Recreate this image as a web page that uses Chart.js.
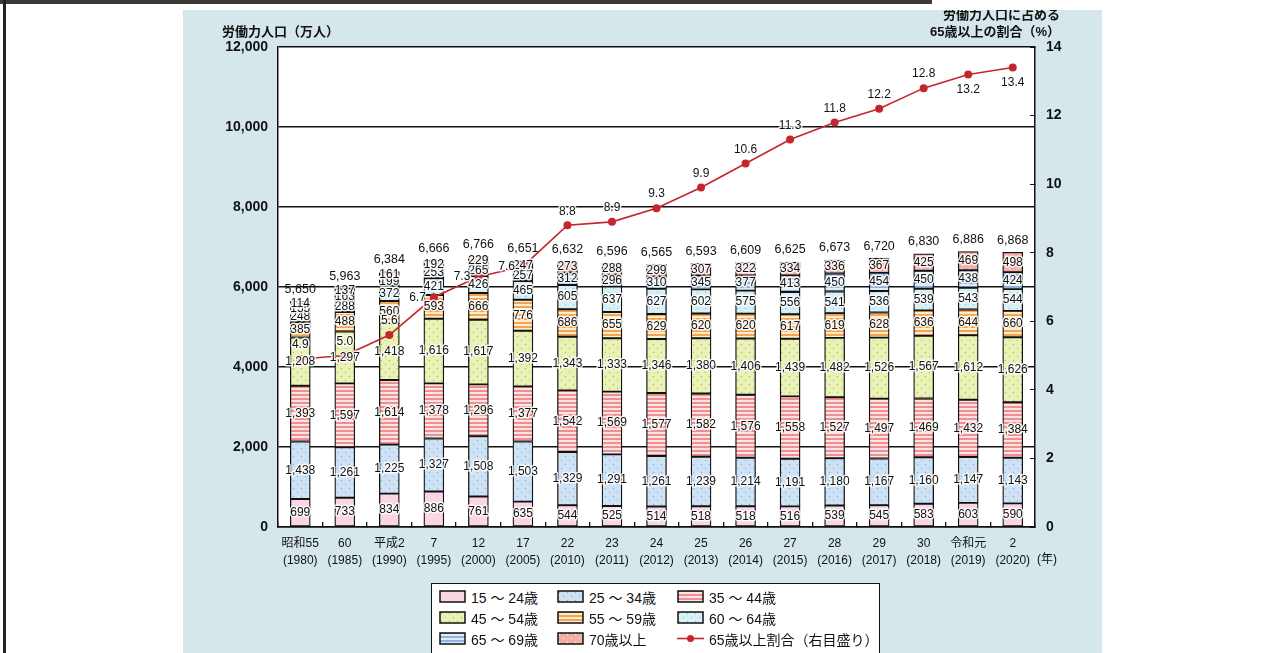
<!DOCTYPE html>
<html lang="ja">
<head>
<meta charset="utf-8">
<title>労働力人口の推移</title>
<script src="https://cdn.jsdelivr.net/npm/chart.js@4.4.1/dist/chart.umd.min.js"></script>
<style>
  body { margin: 0; width: 1271px; height: 653px; overflow: hidden; background: #fff;
         font-family: "Liberation Sans", "Noto Sans CJK JP", sans-serif; position: relative; }
  #topbar { position: absolute; left: 0; top: 0; width: 932px; height: 4px; background: #3a3a3a; }
  #leftline { position: absolute; left: 3px; top: 0; width: 3px; height: 653px; background: #222; }
  #panel { position: absolute; left: 183px; top: 10px; width: 919px; height: 643px; background: #d5e7eb; }
  #chartBox { position: absolute; left: 183px; top: 10px; width: 919px; height: 563px; }
  #legend { position: absolute; left: 431px; top: 583px; width: 449px; height: 80px;
            background: #fff; border: 1.5px solid #111; box-sizing: border-box;
            display: grid; grid-template-columns: 118px 120px 200px; grid-auto-rows: 21px;
            padding: 2px 0 0 7px; font-size: 14px; color: #111; }
  .item { display: flex; align-items: center; }
  .item canvas { margin-right: 5px; }
</style>
</head>
<body>
<div id="topbar"></div>
<div id="leftline"></div>
<div id="panel"></div>
<div id="chartBox"><canvas id="laborChart"></canvas></div>
<div id="legend"></div>
<script>
// categories
const eraYears = ["昭和55", "60", "平成2", "7", "12", "17", "22", "23", "24", "25", "26", "27", "28", "29", "30", "令和元", "2"];
const westernYears = ["(1980)", "(1985)", "(1990)", "(1995)", "(2000)", "(2005)", "(2010)", "(2011)", "(2012)", "(2013)", "(2014)", "(2015)", "(2016)", "(2017)", "(2018)", "(2019)", "(2020)"];
const ageGroups = ["15 ～ 24歳", "25 ～ 34歳", "35 ～ 44歳", "45 ～ 54歳", "55 ～ 59歳", "60 ～ 64歳", "65 ～ 69歳", "70歳以上"];

// labour force by age (万人)
const age15to24 = [699, 733, 834, 886, 761, 635, 544, 525, 514, 518, 518, 516, 539, 545, 583, 603, 590];
const age25to34 = [1438, 1261, 1225, 1327, 1508, 1503, 1329, 1291, 1261, 1239, 1214, 1191, 1180, 1167, 1160, 1147, 1143];
const age35to44 = [1393, 1597, 1614, 1378, 1296, 1377, 1542, 1569, 1577, 1582, 1576, 1558, 1527, 1497, 1469, 1432, 1384];
const age45to54 = [1208, 1297, 1418, 1616, 1617, 1392, 1343, 1333, 1346, 1380, 1406, 1439, 1482, 1526, 1567, 1612, 1626];
const age55to59 = [385, 488, 560, 593, 666, 776, 686, 655, 629, 620, 620, 617, 619, 628, 636, 644, 660];
const age60to64 = [248, 288, 372, 421, 426, 465, 605, 637, 627, 602, 575, 556, 541, 536, 539, 543, 544];
const age65to69 = [155, 163, 199, 253, 265, 257, 312, 296, 310, 345, 377, 413, 450, 454, 450, 438, 424];
const age70plus = [114, 137, 161, 192, 229, 247, 273, 288, 299, 307, 322, 334, 336, 367, 425, 469, 498];
const totals = [5650, 5963, 6384, 6666, 6766, 6651, 6632, 6596, 6565, 6593, 6609, 6625, 6673, 6720, 6830, 6886, 6868];

// share of 65+ in labour force (%)
const share65 = [4.9, 5.0, 5.6, 6.7, 7.3, 7.6, 8.8, 8.9, 9.3, 9.9, 10.6, 11.3, 11.8, 12.2, 12.8, 13.2, 13.4];

const FONT = '"Liberation Sans", "Noto Sans CJK JP", sans-serif';

function makePattern(kind, base, fg) {
  const c = document.createElement("canvas");
  const g = c.getContext("2d");
  if (kind === "stripe") {
    c.width = 4; c.height = 4;
    g.fillStyle = base; g.fillRect(0, 0, 4, 4);
    g.fillStyle = fg; g.fillRect(0, 0, 4, 2);
  } else if (kind === "dot") {
    c.width = 8; c.height = 8;
    g.fillStyle = base; g.fillRect(0, 0, 8, 8);
    g.fillStyle = fg; g.fillRect(2, 2, 1, 1); g.fillRect(6, 6, 1, 1);
  } else {
    c.width = 2; c.height = 2;
    g.fillStyle = base; g.fillRect(0, 0, 2, 2);
  }
  return g.createPattern(c, "repeat");
}

const fills = [
  makePattern("solid", "#fad6e4"),
  makePattern("dot", "#cde2f4", "#86a6cc"),
  makePattern("stripe", "#fde3e3", "#ef8f8f"),
  makePattern("dot", "#e9f1b5", "#9cb468"),
  makePattern("stripe", "#fdeccd", "#f4a552"),
  makePattern("dot", "#d6f0f6", "#7fbccd"),
  makePattern("stripe", "#e0ebf8", "#8fb4e0"),
  makePattern("dot", "#f5aea7", "#ffffff"),
];
const ageSeries = [age15to24, age25to34, age35to44, age45to54, age55to59, age60to64, age65to69, age70plus];

const barSets = ageSeries.map(function (values, i) {
  return {
    type: "bar",
    label: ageGroups[i],
    data: values,
    backgroundColor: fills[i],
    borderColor: "#111",
    borderWidth: 1.3,
    borderSkipped: false,
    barThickness: 20,
    stack: "labour",
    yAxisID: "y",
    order: 1,
  };
});

const lineSet = {
  type: "line",
  label: "65歳以上割合（右目盛り）",
  data: share65,
  borderColor: "#c3262c",
  backgroundColor: "#c3262c",
  borderWidth: 1.6,
  pointRadius: 4,
  pointBackgroundColor: "#c3262c",
  pointBorderWidth: 0,
  yAxisID: "y1",
  order: 0,
};

// where the % labels sit relative to their points
const shareLabelSide = { 3: "left", 4: "left", 5: "left", 15: "below", 16: "below" };

const plotBackground = {
  id: "plotBackground",
  beforeDraw(chart) {
    const { ctx, chartArea: a } = chart;
    ctx.save();
    ctx.fillStyle = "#fff";
    ctx.fillRect(a.left, a.top, a.right - a.left, a.bottom - a.top);
    ctx.restore();
  },
};

const valueLabels = {
  id: "valueLabels",
  afterDatasetsDraw(chart) {
    const ctx = chart.ctx;
    ctx.save();
    ctx.font = "12px " + FONT;
    ctx.textAlign = "center";
    ctx.textBaseline = "middle";
    ctx.lineJoin = "round";
    ctx.fillStyle = "#111";
    ctx.strokeStyle = "rgba(255,255,255,0.85)";
    ctx.lineWidth = 3;
    // segment values
    barSets.forEach(function (ds, i) {
      chart.getDatasetMeta(i).data.forEach(function (bar, j) {
        const p = bar.getProps(["x", "y", "base"], true);
        const txt = ds.data[j].toLocaleString("en-US");
        const cy = (p.y + p.base) / 2;
        ctx.strokeText(txt, p.x, cy);
        ctx.fillText(txt, p.x, cy);
      });
    });
    // totals
    const topMeta = chart.getDatasetMeta(barSets.length - 1);
    ctx.font = "12.5px " + FONT;
    topMeta.data.forEach(function (bar, j) {
      const p = bar.getProps(["x", "y"], true);
      ctx.fillText(totals[j].toLocaleString("en-US"), p.x, p.y - 12);
    });
    // share labels
    ctx.font = "12px " + FONT;
    const lineMeta = chart.getDatasetMeta(barSets.length);
    lineMeta.data.forEach(function (pt, j) {
      const side = shareLabelSide[j] || "above";
      const txt = share65[j].toFixed(1);
      let x = pt.x, y = pt.y - 14;
      ctx.textAlign = "center";
      if (side === "left") { x = pt.x - 8; y = pt.y; ctx.textAlign = "right"; }
      if (side === "below") { y = pt.y + 15; }
      ctx.strokeText(txt, x, y);
      ctx.fillText(txt, x, y);
    });
    ctx.restore();
  },
};

const axisTitles = {
  id: "axisTitles",
  afterDraw(chart) {
    const { ctx, chartArea: a } = chart;
    ctx.save();
    ctx.fillStyle = "#111";
    ctx.font = "bold 13px " + FONT;
    ctx.textBaseline = "middle";
    ctx.textAlign = "left";
    ctx.fillText("労働力人口（万人）", a.left - 56, a.top - 15);
    ctx.textAlign = "right";
    ctx.fillText("労働力人口に占める", a.right + 25, a.top - 32);
    ctx.fillText("65歳以上の割合（%）", a.right + 25, a.top - 15);
    ctx.font = "12px " + FONT;
    ctx.textAlign = "left";
    ctx.fillText("(年)", a.right + 2, a.bottom + 33);
    ctx.restore();
  },
};

const laborChart = new Chart(document.getElementById("laborChart"), {
  data: {
    labels: eraYears.map(function (e, i) { return [e, westernYears[i]]; }),
    datasets: barSets.concat([lineSet]),
  },
  options: {
    responsive: true,
    maintainAspectRatio: false,
    animation: false,
    layout: { padding: { top: 37, left: 0, right: 0, bottom: 0 } },
    plugins: {
      legend: { display: false },
      tooltip: { enabled: false },
    },
    scales: {
      x: {
        stacked: true,
        offset: true,
        grid: { display: true, offset: true, drawOnChartArea: false, drawTicks: true, tickLength: -5, color: "#111", lineWidth: 1.3 },
        border: { color: "#111", width: 1.5 },
        ticks: { color: "#111", padding: 14, maxRotation: 0, autoSkip: false, font: { size: 12, family: FONT, lineHeight: 1.35 } },
        afterFit: function (s) { s.height = 46; },
      },
      y: {
        stacked: true,
        min: 0,
        max: 12000,
        position: "left",
        grid: { color: "#111", lineWidth: 1.4, drawTicks: false },
        border: { color: "#111", width: 1.5 },
        ticks: { stepSize: 2000, color: "#111", padding: 10, font: { size: 14, weight: "bold", family: FONT } },
        afterFit: function (s) { s.width = 95; },
      },
      y1: {
        min: 0,
        max: 14,
        position: "right",
        grid: { drawOnChartArea: false, drawTicks: true, tickLength: -5, color: "#111" },
        border: { color: "#111", width: 1.5 },
        ticks: { stepSize: 2, color: "#111", padding: 16, font: { size: 14, weight: "bold", family: FONT } },
        afterFit: function (s) { s.width = 67; },
      },
    },
  },
  plugins: [plotBackground, valueLabels, axisTitles],
});

// legend, 3 per row like the original
const legendBox = document.getElementById("legend");
laborChart.data.datasets.forEach(function (ds) {
  const item = document.createElement("div");
  item.className = "item";
  const sw = document.createElement("canvas");
  sw.width = 27; sw.height = 13;
  const g = sw.getContext("2d");
  if (ds.type === "bar") {
    g.fillStyle = ds.backgroundColor;
    g.fillRect(1, 1, 25, 11);
    g.strokeStyle = "#111";
    g.lineWidth = 1.5;
    g.strokeRect(1, 1, 25, 11);
  } else {
    g.strokeStyle = ds.borderColor;
    g.lineWidth = 1.6;
    g.beginPath(); g.moveTo(0, 6.5); g.lineTo(27, 6.5); g.stroke();
    g.fillStyle = ds.borderColor;
    g.beginPath(); g.arc(13.5, 6.5, 3.5, 0, Math.PI * 2); g.fill();
  }
  const label = document.createElement("span");
  label.textContent = ds.label;
  item.appendChild(sw);
  item.appendChild(label);
  legendBox.appendChild(item);
});
</script>
</body>
</html>
